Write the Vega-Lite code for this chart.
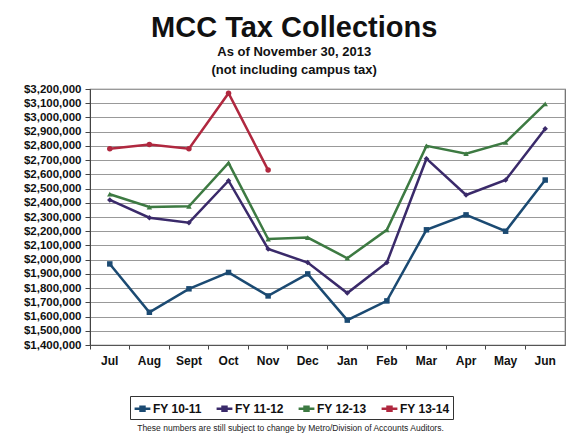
{
  "$schema": "https://vega.github.io/schema/vega-lite/v6.json",
  "width": 475,
  "height": 256,
  "autosize": {"type": "none"},
  "padding": {"left": 90, "top": 89, "right": 6, "bottom": 88},
  "background": "white",
  "title": {
    "text": "MCC Tax Collections",
    "subtitle": ["As of November 30, 2013", "(not including campus tax)"],
    "anchor": "middle",
    "frame": "bounds",
    "font": "Liberation Sans",
    "fontSize": 29,
    "fontWeight": "bold",
    "color": "#111",
    "subtitleFont": "Liberation Sans",
    "subtitleFontSize": 13,
    "subtitleFontWeight": "bold",
    "subtitleColor": "#111",
    "subtitlePadding": 3,
    "subtitleLineHeight": 18,
    "offset": 6
  },
  "data": {
    "values": [
      {"month": "Jul", "fy": "FY 10-11", "v": 1970000},
      {"month": "Aug", "fy": "FY 10-11", "v": 1630000},
      {"month": "Sept", "fy": "FY 10-11", "v": 1795000},
      {"month": "Oct", "fy": "FY 10-11", "v": 1910000},
      {"month": "Nov", "fy": "FY 10-11", "v": 1745000},
      {"month": "Dec", "fy": "FY 10-11", "v": 1900000},
      {"month": "Jan", "fy": "FY 10-11", "v": 1575000},
      {"month": "Feb", "fy": "FY 10-11", "v": 1710000},
      {"month": "Mar", "fy": "FY 10-11", "v": 2210000},
      {"month": "Apr", "fy": "FY 10-11", "v": 2315000},
      {"month": "May", "fy": "FY 10-11", "v": 2200000},
      {"month": "Jun", "fy": "FY 10-11", "v": 2560000},
      {"month": "Jul", "fy": "FY 11-12", "v": 2420000},
      {"month": "Aug", "fy": "FY 11-12", "v": 2295000},
      {"month": "Sept", "fy": "FY 11-12", "v": 2260000},
      {"month": "Oct", "fy": "FY 11-12", "v": 2555000},
      {"month": "Nov", "fy": "FY 11-12", "v": 2075000},
      {"month": "Dec", "fy": "FY 11-12", "v": 1980000},
      {"month": "Jan", "fy": "FY 11-12", "v": 1765000},
      {"month": "Feb", "fy": "FY 11-12", "v": 1980000},
      {"month": "Mar", "fy": "FY 11-12", "v": 2710000},
      {"month": "Apr", "fy": "FY 11-12", "v": 2455000},
      {"month": "May", "fy": "FY 11-12", "v": 2560000},
      {"month": "Jun", "fy": "FY 11-12", "v": 2920000},
      {"month": "Jul", "fy": "FY 12-13", "v": 2460000},
      {"month": "Aug", "fy": "FY 12-13", "v": 2370000},
      {"month": "Sept", "fy": "FY 12-13", "v": 2375000},
      {"month": "Oct", "fy": "FY 12-13", "v": 2680000},
      {"month": "Nov", "fy": "FY 12-13", "v": 2145000},
      {"month": "Dec", "fy": "FY 12-13", "v": 2155000},
      {"month": "Jan", "fy": "FY 12-13", "v": 2010000},
      {"month": "Feb", "fy": "FY 12-13", "v": 2210000},
      {"month": "Mar", "fy": "FY 12-13", "v": 2800000},
      {"month": "Apr", "fy": "FY 12-13", "v": 2745000},
      {"month": "May", "fy": "FY 12-13", "v": 2825000},
      {"month": "Jun", "fy": "FY 12-13", "v": 3095000},
      {"month": "Jul", "fy": "FY 13-14", "v": 2780000},
      {"month": "Aug", "fy": "FY 13-14", "v": 2810000},
      {"month": "Sept", "fy": "FY 13-14", "v": 2780000},
      {"month": "Oct", "fy": "FY 13-14", "v": 3170000},
      {"month": "Nov", "fy": "FY 13-14", "v": 2630000}
    ]
  },
  "encoding": {
    "x": {
      "field": "month",
      "type": "ordinal",
      "sort": ["Jul", "Aug", "Sept", "Oct", "Nov", "Dec", "Jan", "Feb", "Mar", "Apr", "May", "Jun"],
      "scale": {"type": "band", "paddingInner": 0, "paddingOuter": 0},
      "axis": {
        "title": "These numbers are still subject to change by Metro/Division of Accounts Auditors.",
        "titleFont": "Liberation Sans",
        "titleFontSize": 8.5,
        "titleFontWeight": "normal",
        "titleColor": "#222",
        "titleY": 78,
        "titleX": 200,
        "labelAngle": 0,
        "labelFont": "Liberation Sans",
        "labelFontSize": 12,
        "labelFontWeight": "bold",
        "labelColor": "#111",
        "labelPadding": 6,
        "bandPosition": 0,
        "tickColor": "#444",
        "tickSize": 4,
        "domainColor": "#555",
        "grid": false
      }
    },
    "y": {
      "field": "v",
      "type": "quantitative",
      "scale": {"domain": [1400000, 3200000], "nice": false, "zero": false},
      "axis": {
        "title": null,
        "values": [1400000, 1500000, 1600000, 1700000, 1800000, 1900000, 2000000, 2100000, 2200000, 2300000, 2400000, 2500000, 2600000, 2700000, 2800000, 2900000, 3000000, 3100000, 3200000],
        "format": "$,.0f",
        "labelFont": "Liberation Sans",
        "labelFontSize": 11.5,
        "labelFontWeight": "bold",
        "labelColor": "#111",
        "labelPadding": 4,
        "tickColor": "#444",
        "tickSize": 5,
        "domainColor": "#444",
        "gridColor": "#999",
        "gridWidth": 1
      }
    },
    "color": {
      "field": "fy",
      "type": "nominal",
      "scale": {
        "domain": ["FY 10-11", "FY 11-12", "FY 12-13", "FY 13-14"],
        "range": ["#1B4A72", "#3A2A6A", "#3D7A42", "#B0283F"]
      },
      "legend": {
        "title": null,
        "orient": "none",
        "direction": "horizontal",
        "legendX": 40,
        "legendY": 307,
        "strokeColor": "#333",
        "padding": 3,
        "labelFont": "Liberation Sans",
        "labelFontSize": 12,
        "labelFontWeight": "bold",
        "labelColor": "#111",
        "symbolType": "M-1,0H1M-0.25,-0.25H0.25V0.25H-0.25Z",
        "symbolSize": 250,
        "symbolStrokeWidth": 2.5,
        "columnPadding": 9,
        "labelOffset": 1
      }
    }
  },
  "layer": [
    {
      "mark": {"type": "line", "strokeWidth": 2.5},
      "encoding": {
        "strokeWidth": {
          "condition": {"test": "datum.fy === 'FY 10-11'", "value": 3.5},
          "value": 2.5
        }
      }
    },
    {
      "transform": [{"filter": "datum.fy === 'FY 10-11'"}],
      "mark": {"type": "point", "filled": true, "size": 30, "opacity": 1, "shape": "square"}
    },
    {
      "transform": [{"filter": "datum.fy === 'FY 11-12'"}],
      "mark": {"type": "point", "filled": true, "size": 30, "opacity": 1, "shape": "diamond"}
    },
    {
      "transform": [{"filter": "datum.fy === 'FY 12-13'"}],
      "mark": {"type": "point", "filled": true, "size": 30, "opacity": 1, "shape": "triangle-up"}
    },
    {
      "transform": [{"filter": "datum.fy === 'FY 13-14'"}],
      "mark": {"type": "point", "filled": true, "size": 30, "opacity": 1, "shape": "circle"}
    }
  ],
  "config": {
    "view": {"stroke": "#666", "strokeWidth": 1.2}
  }
}
